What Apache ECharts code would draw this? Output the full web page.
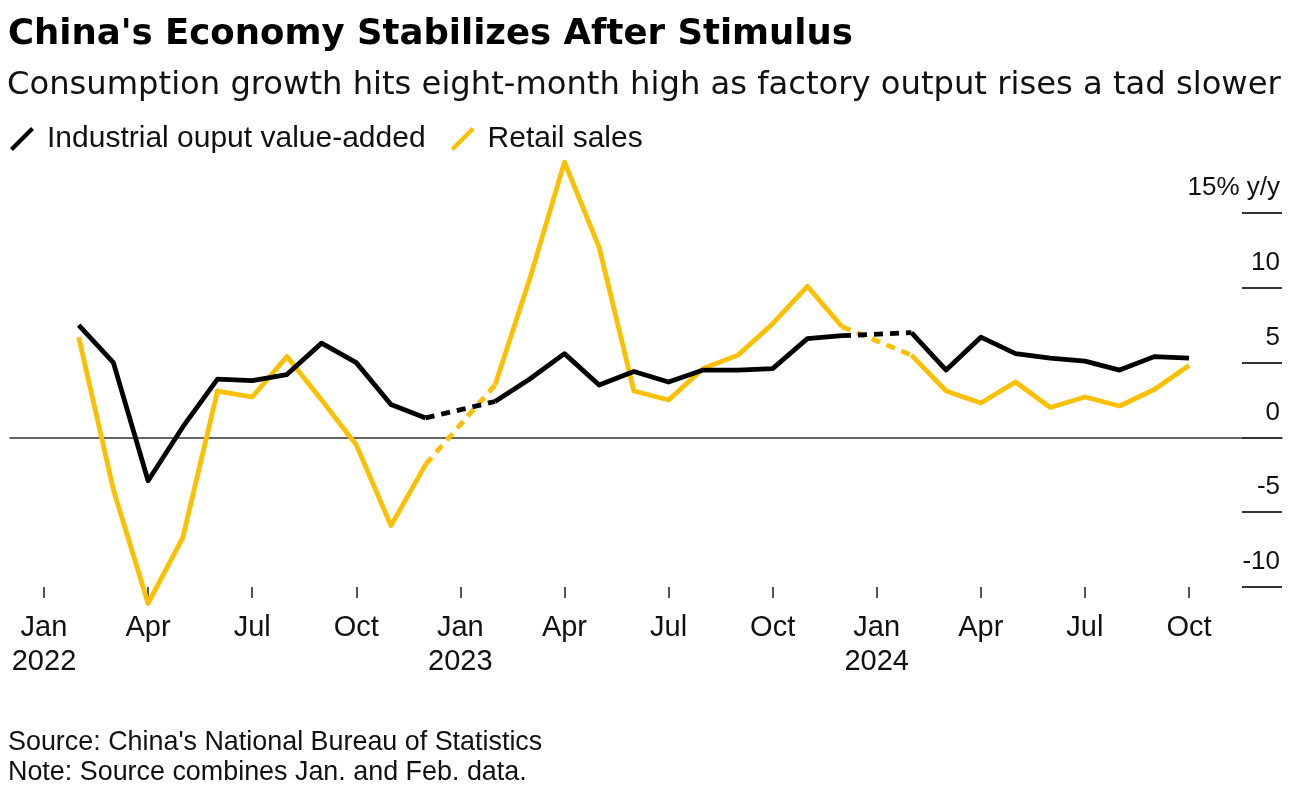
<!DOCTYPE html>
<html><head><meta charset="utf-8">
<script src="https://cdn.jsdelivr.net/npm/echarts@6/dist/echarts.min.js"></script>
<style>html,body{margin:0;padding:0;background:#fff}#c{width:1297px;height:787px}</style>
</head><body><div id="c"></div>
<script>
// Months (Jan and Feb are reported combined, plotted at Feb)
const months = ['2022-01','2022-02','2022-03','2022-04','2022-05','2022-06','2022-07','2022-08','2022-09','2022-10','2022-11','2022-12',
                '2023-01','2023-02','2023-03','2023-04','2023-05','2023-06','2023-07','2023-08','2023-09','2023-10','2023-11','2023-12',
                '2024-01','2024-02','2024-03','2024-04','2024-05','2024-06','2024-07','2024-08','2024-09','2024-10'];
const industrial = [null,7.5,5.0,-2.9,0.7,3.9,3.8,4.2,6.3,5.0,2.2,1.3,
                    null,2.4,3.9,5.6,3.5,4.4,3.7,4.5,4.5,4.6,6.6,6.8,
                    null,7.0,4.5,6.7,5.6,5.3,5.1,4.5,5.4,5.3];
const retail = [null,6.7,-3.5,-11.1,-6.7,3.1,2.7,5.4,2.5,-0.5,-5.9,-1.8,
                null,3.5,10.6,18.4,12.7,3.1,2.5,4.6,5.5,7.6,10.1,7.4,
                null,5.5,3.1,2.3,3.7,2.0,2.7,2.1,3.2,4.8];
const monthNames = ['Jan','Feb','Mar','Apr','May','Jun','Jul','Aug','Sep','Oct','Nov','Dec'];
const yMin = -10, yMax = 15, yStep = 5;
const seriesNames = ['Industrial ouput value-added','Retail sales'];
const colors = {ind:'#000000', ret:'#fcc000'};

const LW = 4.8;
function solid(name, vals, color, z){
  return {name, type:'line', data:vals, xAxisIndex:0, yAxisIndex:0, showSymbol:false, symbol:'none',
    clip:false, z, lineStyle:{color, width:LW, join:'round'}, itemStyle:{color}, emphasis:{disabled:true}};
}
function gaps(name, vals, color, z){
  const out = [];
  vals.forEach((v,i)=>{
    if(v===null && i>0 && i<vals.length-1){
      const d = vals.map(()=>null);
      d[i-1] = vals[i-1]; d[i+1] = vals[i+1];
      out.push({name, type:'line', data:d, xAxisIndex:0, yAxisIndex:0, connectNulls:true, showSymbol:false, symbol:'none',
        clip:false, z, lineStyle:{color, width:LW, type:[9,7]}, itemStyle:{color}, emphasis:{disabled:true}});
    }
  });
  return out;
}

const chart = echarts.init(document.getElementById('c'), null, {renderer:'canvas'});
const FONT = 'Liberation Sans';
chart.setOption({
  animation:false,
  backgroundColor:'#ffffff',
  title:[
    {text:"China's Economy Stabilizes After Stimulus", left:3, top:12,
     textStyle:{fontFamily:'DejaVu Sans', fontWeight:'bold', fontSize:35.5, color:'#000', lineHeight:36}},
    {text:'Consumption growth hits eight-month high as factory output rises a tad slower', left:2, top:64,
     textStyle:{fontFamily:'DejaVu Sans', fontWeight:'normal', fontSize:32.2, color:'#111', lineHeight:33}},
    {text:"Source: China's National Bureau of Statistics\nNote: Source combines Jan. and Feb. data.", left:3, top:723,
     textStyle:{fontFamily:FONT, fontWeight:'normal', fontSize:26.9, color:'#111', lineHeight:30}}
  ],
  legend:{
    left:5, top:119, itemGap:25, itemWidth:32, itemHeight:24,
    icon:'path://M0,21 L21,0 L24,3 L3,24 Z M32,12 L32.01,12 L32.01,12.01 Z',
    data:seriesNames,
    selectedMode:false,
    textStyle:{fontFamily:FONT, fontSize:30, color:'#111', lineHeight:30}
  },
  grid:[
    {left:44, right:108, top:213, bottom:200},
    {left:10, right:15, top:213, bottom:200}
  ],
  xAxis:[
    {type:'category', gridIndex:0, data:months, boundaryGap:false, position:'bottom',
     axisLine:{show:false, onZero:false},
     axisTick:{show:true, interval:2, length:11, lineStyle:{color:'#555', width:2}},
     axisLabel:{interval:2, margin:24, fontFamily:FONT, fontSize:29, color:'#111', lineHeight:34,
       formatter:(v)=>{const p=v.split('-'); const n=monthNames[+p[1]-1]; return p[1]==='01'? n+'\n'+p[0] : n;}},
     splitLine:{show:false}},
    {type:'value', gridIndex:1, min:0, max:1,
     axisLine:{show:true, onZero:true, lineStyle:{color:'#333', width:1.5}},
     axisTick:{show:false}, axisLabel:{show:false}, splitLine:{show:false}}
  ],
  yAxis:[
    {type:'value', gridIndex:0, min:yMin, max:yMax, interval:yStep, show:false},
    {type:'value', gridIndex:1, position:'right', min:yMin, max:yMax, interval:yStep,
     axisLine:{show:false, onZero:false},
     axisTick:{show:true, inside:true, length:40, lineStyle:{color:'#333', width:2}},
     axisLabel:{inside:true, margin:2, fontFamily:FONT, fontSize:26, color:'#111',
       verticalAlign:'bottom', lineHeight:26, padding:[0,0,12,0],
       formatter:(v)=> v===yMax ? v+'% y/y' : String(v)},
     splitLine:{show:false}}
  ],
  series:[
    solid(seriesNames[1], retail, colors.ret, 2),
    ...gaps(seriesNames[1], retail, colors.ret, 2),
    solid(seriesNames[0], industrial, colors.ind, 3),
    ...gaps(seriesNames[0], industrial, colors.ind, 3)
  ]
});
</script>
</body></html>
